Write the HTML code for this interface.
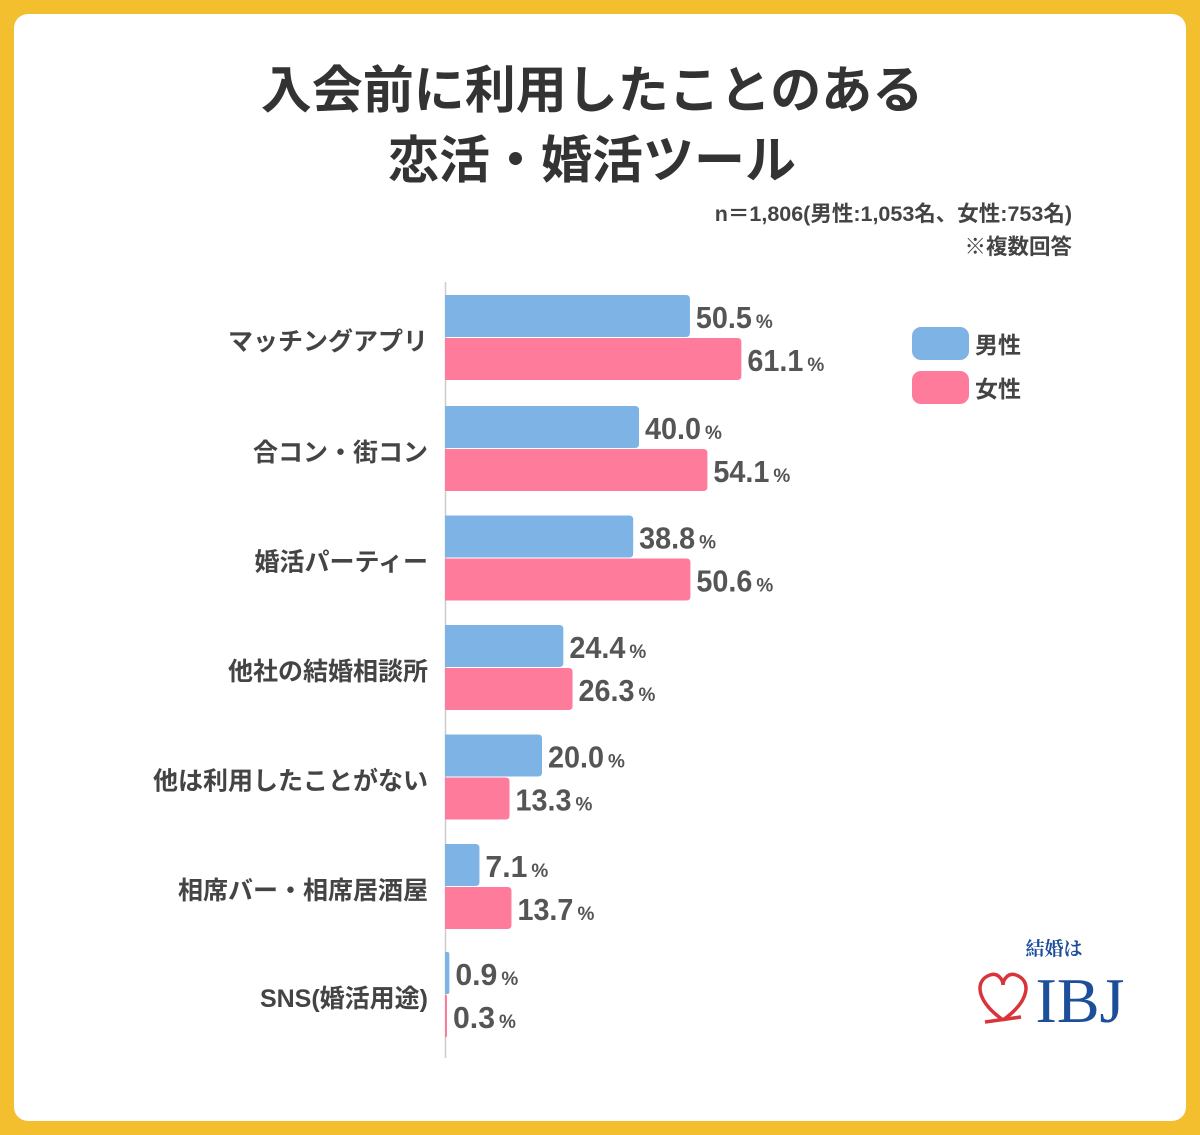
<!DOCTYPE html>
<html><head><meta charset="utf-8"><style>
body{margin:0;background:#F3BF2E;width:1200px;height:1135px;overflow:hidden;font-family:"Liberation Sans","Noto Sans CJK JP",sans-serif}
#card{position:absolute;left:14px;top:14px;width:1172px;height:1107px;background:#fff;border-radius:14px}
svg{position:absolute;left:0;top:0}
</style></head><body>
<div id="card"></div>
<svg id="chart" width="1200" height="1135">
<text x="592" y="108" text-anchor="middle" font-size="51" font-weight="bold" fill="#333" font-family="Liberation Sans,Noto Sans CJK JP,sans-serif">入会前に利用したことのある</text>
<text x="592" y="178" text-anchor="middle" font-size="51" font-weight="bold" fill="#333" font-family="Liberation Sans,Noto Sans CJK JP,sans-serif">恋活・婚活ツール</text>
<text x="1072" y="221" text-anchor="end" font-size="21.5" font-weight="bold" fill="#444" font-family="Liberation Sans,Noto Sans CJK JP,sans-serif">n＝1,806(男性:1,053名、女性:753名)</text>
<text x="1072" y="254" text-anchor="end" font-size="21.5" font-weight="bold" fill="#444" font-family="Liberation Sans,Noto Sans CJK JP,sans-serif">※複数回答</text>
<line x1="445.5" y1="282" x2="445.5" y2="1058" stroke="#ccc" stroke-width="1.5"/>
<rect x="912" y="327" width="57" height="33" rx="9" fill="#7DB3E5"/>
<text x="975" y="353" font-size="23" font-weight="bold" fill="#444" font-family="Liberation Sans,Noto Sans CJK JP,sans-serif">男性</text>
<rect x="912" y="371" width="57" height="33" rx="9" fill="#FF7B9B"/>
<text x="975" y="397" font-size="23" font-weight="bold" fill="#444" font-family="Liberation Sans,Noto Sans CJK JP,sans-serif">女性</text>
<g>
<text x="1054" y="955" text-anchor="middle" font-size="19" font-weight="bold" fill="#1D4E9A" font-family="Liberation Serif,Noto Serif CJK SC,serif">結婚は</text>
<path d="M1003,1020 C975,1000 975,980 990,975 C998,972 1003,980 1003,985 C1003,980 1008,972 1016,975 C1031,980 1031,1000 1003,1020 M985,1022 L1021,1017" fill="none" stroke="#D9343A" stroke-width="3.5"/>
<text x="1080" y="1022" text-anchor="middle" font-size="64" fill="#1D4E9A" font-family="Liberation Serif,serif">IBJ</text>
</g>
</svg>
<script>
const categories=["マッチングアプリ","合コン・街コン","婚活パーティー","他社の結婚相談所","他は利用したことがない","相席バー・相席居酒屋","SNS(婚活用途)"];
const maleValues=[50.5,40.0,38.8,24.4,20.0,7.1,0.9];
const femaleValues=[61.1,54.1,50.6,26.3,13.3,13.7,0.3];
const svg=document.getElementById('chart');
const NS='http://www.w3.org/2000/svg';
const x0=445, pxPer=4.85;
function xs(v){return v*pxPer;}
function gy(i){return 295+i*109.5+(i>0&&i<6?1.5:0);}
const FONT='Liberation Sans,Noto Sans CJK JP,sans-serif';
function barPath(x,y,w,h){const r=Math.min(4,w/2);return `M${x},${y}H${x+w-r}Q${x+w},${y} ${x+w},${y+r}V${y+h-r}Q${x+w},${y+h} ${x+w-r},${y+h}H${x}Z`;}
function mk(tag,attrs){const e=document.createElementNS(NS,tag);for(const k in attrs)e.setAttribute(k,attrs[k]);svg.appendChild(e);return e;}
categories.forEach((c,i)=>{
  const y=gy(i);
  const t=mk('text',{x:428,y:y+55,'text-anchor':'end','font-size':25,'font-weight':'bold',fill:'#444','font-family':FONT});
  t.textContent=c;
  
  
  [[maleValues[i],'#7DB3E5',0,'male'],[femaleValues[i],'#FF7B9B',43,'female']].forEach(([v,col,off,s])=>{
    const w=Math.max(xs(v),2);
    const b=mk('path',{d:barPath(x0,y+off,w,42),fill:col});
    
    
    const lt=mk('text',{x:x0+w+6,y:y+off+33,'font-size':31,'font-weight':'bold',fill:'#555','font-family':'Liberation Sans Narrow,Liberation Sans,sans-serif',textLength:v.toFixed(1).length*14,lengthAdjust:'spacingAndGlyphs'});
    lt.textContent=v.toFixed(1);
    
    
    const p=mk('text',{x:x0+w+6+v.toFixed(1).length*14+4,y:y+off+33,'font-size':19,'font-weight':'bold',fill:'#555','font-family':FONT});
    p.textContent='%';
    
    
  });
});
</script>
</body></html>
